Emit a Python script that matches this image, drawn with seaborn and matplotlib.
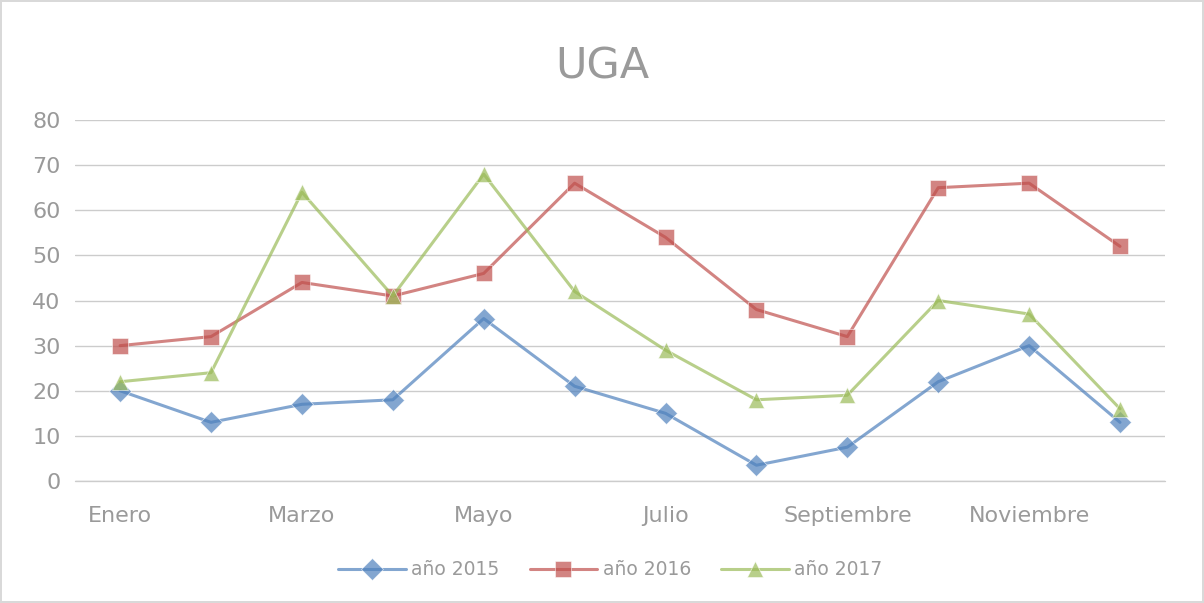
import pandas as pd
import matplotlib.pyplot as plt
import seaborn as sns

# Monthly values
meses = ['Enero', 'Febrero', 'Marzo', 'Abril', 'Mayo', 'Junio', 'Julio',
         'Agosto', 'Septiembre', 'Octubre', 'Noviembre', 'Diciembre']
anio_2015 = [20, 13, 17, 18, 36, 21, 15, 3.5, 7.5, 22, 30, 13]
anio_2016 = [30, 32, 44, 41, 46, 66, 54, 38, 32, 65, 66, 52]
anio_2017 = [22, 24, 64, 41, 68, 42, 29, 18, 19, 40, 37, 16]
series = ['año 2015', 'año 2016', 'año 2017']
tick_meses = ['Enero', 'Marzo', 'Mayo', 'Julio', 'Septiembre', 'Noviembre']

df = pd.DataFrame({
    'mes': meses * 3,
    'pos': list(range(len(meses))) * 3,
    'valor': anio_2015 + anio_2016 + anio_2017,
    'serie': [s for s in series for _ in meses],
})

sns.set_style('white')
txt = '#9a9a9a'
palette = {'año 2015': '#4F81BD', 'año 2016': '#C0504D', 'año 2017': '#9BBB59'}
markers = {'año 2015': 'D', 'año 2016': 's', 'año 2017': '^'}

fig = plt.figure(figsize=(12.04, 6.03), dpi=100)
fig.patch.set_edgecolor('#d9d9d9')
fig.patch.set_linewidth(1.5)
ax = fig.add_axes([0.062, 0.2023, 0.906, 0.5987])

sns.lineplot(data=df, x='pos', y='valor', hue='serie', style='serie',
             markers=markers, dashes=False, palette=palette, linewidth=2.2,
             markersize=11, markeredgewidth=0.5, alpha=0.7, ax=ax)

ax.set_xlim(-0.5, 11.5)
ax.set_ylim(0, 80)
ax.set_yticks(range(0, 81, 10))
ax.set_xticks([meses.index(m) for m in tick_meses])
ax.set_xticklabels(tick_meses)
ax.tick_params(axis='both', labelsize=16, colors=txt, length=0, pad=10)
ax.tick_params(axis='x', pad=18)
ax.yaxis.grid(True, color='#cccccc', linewidth=1)
ax.axhline(0, color='#cccccc', linewidth=1, clip_on=False, zorder=0)
ax.set_axisbelow(True)
for s in ax.spines.values():
    s.set_visible(False)
ax.set_xlabel('')
ax.set_ylabel('')

ax.get_legend().remove()
handles, labels = ax.get_legend_handles_labels()
fig.legend(handles, labels, loc='center', bbox_to_anchor=(0.507, 0.055), ncol=3,
           frameon=False, fontsize=13.5, labelcolor=txt, handlelength=3.6,
           columnspacing=1.6, handletextpad=0.3)

fig.suptitle('UGA', y=0.925, fontsize=31, color=txt)

plt.savefig('out.png', dpi=100)
